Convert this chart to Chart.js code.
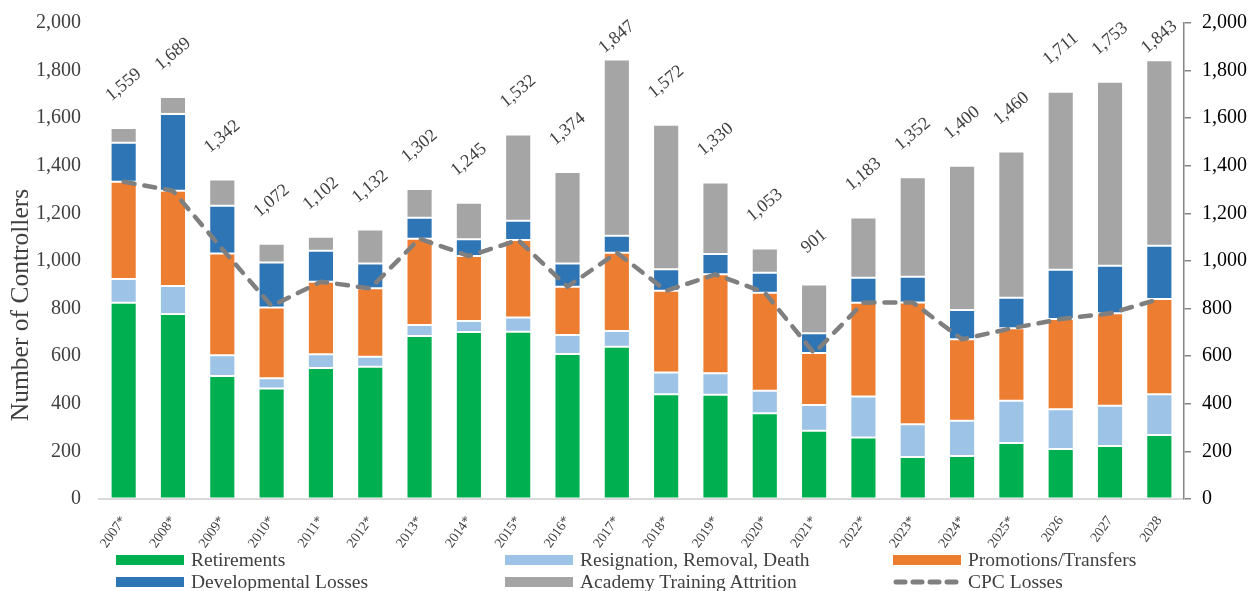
<!DOCTYPE html>
<html>
<head>
<meta charset="utf-8">
<title>Controller losses</title>
<script src="https://cdn.jsdelivr.net/npm/chart.js@4/dist/chart.umd.min.js"></script>
<style>
  body { margin: 0; background: #fff; }
  #wrap { position: relative; width: 1254px; height: 591px; }
  #legend { position: absolute; left: 0; top: 0; width: 1254px; height: 591px; pointer-events: none;
            font-family: 'Liberation Serif', 'Times New Roman', serif; font-size: 19.5px; color: #404040; }
  .item { position: absolute; display: flex; align-items: center; white-space: nowrap; height: 22px; }
  .swatch { width: 68px; height: 10px; margin-right: 7px; }
</style>
</head>
<body>
<div id="wrap">
  <canvas id="losses_chart" width="1254" height="591"></canvas>
  <div id="legend"></div>
</div>
<script>
'use strict'

const years = ['2007*','2008*','2009*','2010*','2011*','2012*','2013*','2014*','2015*','2016*','2017*',
               '2018*','2019*','2020*','2021*','2022*','2023*','2024*','2025*','2026','2027','2028'];

const retirements = [825,777,517,464,550,556,685,702,703,609,640,440,438,360,287,258,176,181,235,210,223,269];
const resignations = [99,118,87,43,58,42,46,46,60,80,66,92,90,95,108,173,138,148,178,167,169,171];
const promotions = [409,400,428,298,305,287,363,273,325,203,329,343,416,412,218,394,512,342,304,379,388,400];
const developmental = [164,323,200,189,130,105,88,70,81,98,71,90,85,84,83,105,108,123,129,207,200,224];
const academy = [62,71,110,78,59,142,120,154,363,384,741,607,301,102,205,253,418,606,614,748,773,779];
const cpcLosses = [1333,1295,1050,811,913,885,1094,1021,1088,892,1035,875,944,867,613,825,826,671,717,756,780,840];

const serif = "'Liberation Serif', 'Times New Roman', serif";
const textGrey = '#404040';
const axisGrey = '#868686';

// rotated totals above each stacked bar
const totalsPlugin = {
    id: 'totals',
    afterDatasetsDraw(chart) {
        const ctx = chart.ctx;
        const area = chart.chartArea;
        const y = chart.scales.y;
        const barSets = chart.data.datasets.filter(d => d.type !== 'line');
        const meta = chart.getDatasetMeta(0);
        ctx.save();
        ctx.font = `18px ${serif}`;
        ctx.fillStyle = textGrey;
        ctx.textAlign = 'center';
        ctx.textBaseline = 'middle';
        chart.data.labels.forEach((lab, i) => {
            const total = barSets.reduce((s, d) => s + d.data[i], 0);
            const x = meta.data[i].x;
            const cy = Math.max(y.getPixelForValue(total) - 43, area.top + 14);
            ctx.save();
            ctx.translate(x, cy);
            ctx.rotate(-40 * Math.PI / 180);
            ctx.fillText(total.toLocaleString('en-US'), 0, 0);
            ctx.restore();
        });
        ctx.restore();
    }
};

// axis title sits a little below the middle of the axis
const yTitlePlugin = {
    id: 'yTitle',
    afterDraw(chart) {
        const ctx = chart.ctx;
        ctx.save();
        ctx.font = `25.5px ${serif}`;
        ctx.fillStyle = textGrey;
        ctx.textAlign = 'center';
        ctx.textBaseline = 'middle';
        ctx.translate(21, 305);
        ctx.rotate(-Math.PI / 2);
        ctx.fillText('Number of Controllers', 0, 0);
        ctx.restore();
    }
};

const barSet = (label, data, color) => ({
    label: label,
    data: data,
    backgroundColor: color,
    borderColor: 'rgba(255,255,255,0.5)',
    borderWidth: 1,
    borderSkipped: false,
    barPercentage: 0.53,
    categoryPercentage: 1,
    yAxisID: 'y',
    order: 1
});

window.onload = () => {
    const ctx = document.getElementById('losses_chart').getContext('2d');

    const chart = new Chart(ctx, {
        type: 'bar',
        data: {
            labels: years,
            datasets: [
                barSet('Retirements', retirements, '#00B050'),
                barSet('Resignation, Removal, Death', resignations, '#9DC3E6'),
                barSet('Promotions/Transfers', promotions, '#ED7D31'),
                barSet('Developmental Losses', developmental, '#2E75B6'),
                barSet('Academy Training Attrition', academy, '#A5A5A5'),
                {
                    type: 'line',
                    label: 'CPC Losses',
                    data: cpcLosses,
                    borderColor: '#7F7F7F',
                    backgroundColor: '#7F7F7F',
                    borderWidth: 4.5,
                    borderDash: [11, 10],
                    borderCapStyle: 'round',
                    pointRadius: 0,
                    tension: 0,
                    yAxisID: 'y2',
                    order: 0
                }
            ]
        },
        options: {
            responsive: false,
            animation: false,
            layout: { padding: { top: 23, left: 0, right: 0, bottom: 0 } },
            plugins: {
                legend: { display: false },
                tooltip: { enabled: false }
            },
            scales: {
                x: {
                    stacked: true,
                    grid: { display: false, drawTicks: false },
                    border: { color: '#D9D9D9', width: 2 },
                    ticks: {
                        font: { family: serif, size: 14 },
                        color: textGrey,
                        minRotation: 55,
                        maxRotation: 55,
                        padding: 14
                    },
                    afterFit: (scale) => { scale.height = 92; }
                },
                y: {
                    stacked: true,
                    position: 'left',
                    min: 0,
                    max: 2000,
                    // invisible tick marks keep the labels clear of the bars
                    grid: { drawOnChartArea: false, drawTicks: true, tickLength: 11, color: 'rgba(0,0,0,0)' },
                    border: { display: false },
                    ticks: {
                        stepSize: 200,
                        padding: 7,
                        font: { family: serif, size: 20 },
                        color: textGrey,
                        callback: (v) => v.toLocaleString('en-US')
                    },
                    afterFit: (scale) => { scale.width = 99; }
                },
                y2: {
                    position: 'right',
                    min: 0,
                    max: 2000,
                    grid: { drawOnChartArea: false, drawTicks: true, tickLength: 7, color: axisGrey, lineWidth: 1.5 },
                    border: { color: axisGrey, width: 1.5 },
                    ticks: {
                        stepSize: 200,
                        padding: 11,
                        font: { family: serif, size: 20 },
                        color: '#000',
                        callback: (v) => v.toLocaleString('en-US')
                    },
                    afterFit: (scale) => { scale.width = 70; }
                }
            }
        },
        plugins: [totalsPlugin, yTitlePlugin]
    });

    // legend in three columns under the axis
    const legend = document.getElementById('legend');
    const cols = [116, 505, 893];
    const rows = [549, 571];
    chart.data.datasets.forEach((d, i) => {
        const item = document.createElement('div');
        item.className = 'item';
        item.style.left = cols[i % 3] + 'px';
        item.style.top = rows[Math.floor(i / 3)] + 'px';
        let swatch;
        if (d.type === 'line') {
            swatch = document.createElementNS('http://www.w3.org/2000/svg', 'svg');
            swatch.setAttribute('width', '68');
            swatch.setAttribute('height', '10');
            swatch.style.marginRight = '7px';
            swatch.innerHTML = `<line x1="3" y1="5" x2="65" y2="5" stroke="${d.borderColor}" stroke-width="5"
                stroke-linecap="round" stroke-dasharray="9 8"/>`;
        } else {
            swatch = document.createElement('span');
            swatch.className = 'swatch';
            swatch.style.background = d.backgroundColor;
        }
        const text = document.createElement('span');
        text.textContent = d.label;
        item.appendChild(swatch);
        item.appendChild(text);
        legend.appendChild(item);
    });
};
</script>
</body>
</html>
